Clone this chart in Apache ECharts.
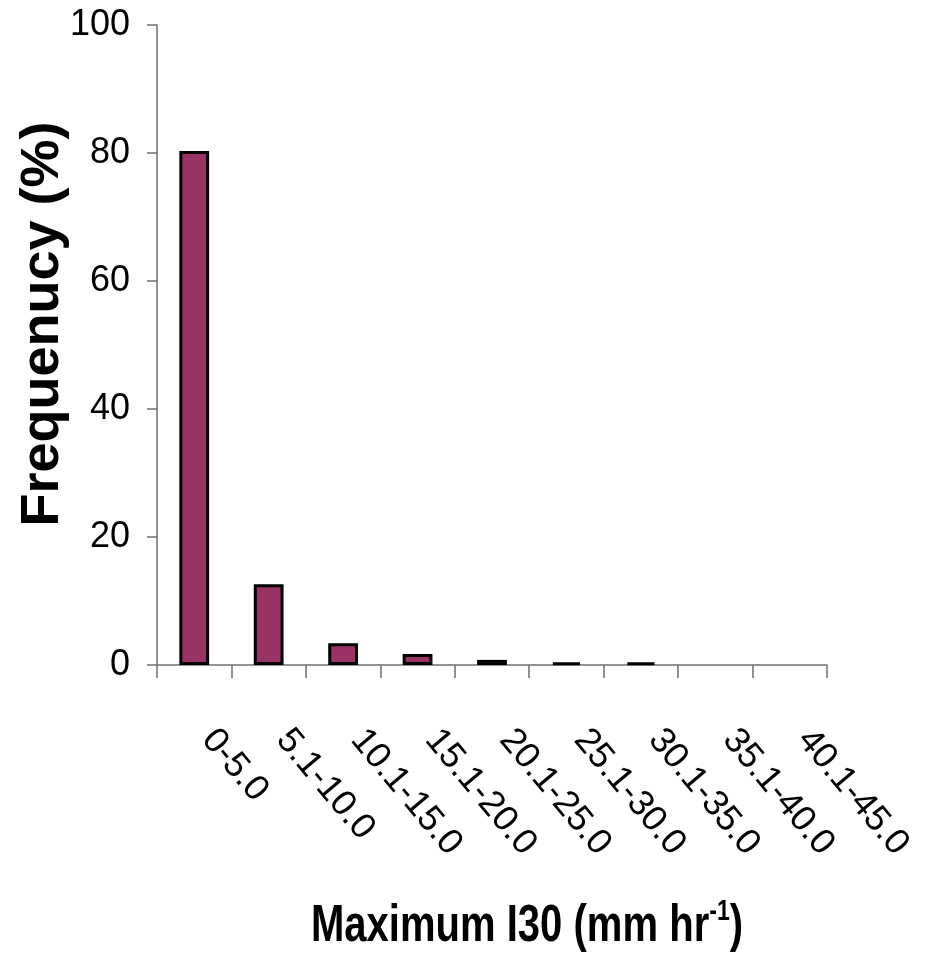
<!DOCTYPE html>
<html>
<head>
<meta charset="utf-8">
<script src="https://cdn.jsdelivr.net/npm/echarts@6/dist/echarts.min.js"></script>
<style>
  html, body { margin: 0; padding: 0; background: #fff; }
  #chart { width: 928px; height: 958px; }
</style>
</head>
<body>
<div id="chart"></div>
<script>
const categories = ['0-5.0', '5.1-10.0', '10.1-15.0', '15.1-20.0', '20.1-25.0', '25.1-30.0', '30.1-35.0', '35.1-40.0', '40.1-45.0'];
const frequency = [80.3, 12.6, 3.4, 1.7, 0.8, 0.4, 0.4, 0, 0];
const yTicks = [0, 20, 40, 60, 80, 100];
const yTitle = 'Frequenucy (%)';
const xTitleMain = 'Maximum I30 (mm hr';
const xTitleSup = '-1';

const chart = echarts.init(document.getElementById('chart'), null, { renderer: 'canvas' });
const axisColor = '#707070';
const labelFont = '"Liberation Sans Narrow", "Liberation Sans", Arial, sans-serif';
chart.setOption({
  backgroundColor: '#ffffff',
  animation: false,
  grid: { left: 157, right: 101, top: 25, bottom: 293, containLabel: false },
  xAxis: {
    type: 'category',
    data: categories,
    boundaryGap: true,
    axisLine: { lineStyle: { color: axisColor, width: 1.5 } },
    axisTick: { show: true, length: 13, inside: false, alignWithLabel: false, lineStyle: { color: axisColor, width: 1.5 } },
    axisLabel: {
      rotate: -50, margin: 52, interval: 0,
      padding: [0, 0, 0, 22],
      fontFamily: labelFont,
      fontSize: 36, color: '#000'
    }
  },
  yAxis: {
    type: 'value',
    min: yTicks[0], max: yTicks[yTicks.length - 1], interval: 20,
    splitLine: { show: false },
    axisLine: { show: true, lineStyle: { color: axisColor, width: 1.5 } },
    axisTick: { show: true, length: 10, lineStyle: { color: axisColor, width: 1.5 } },
    axisLabel: {
      margin: 27,
      fontFamily: labelFont,
      fontSize: 36, color: '#000'
    }
  },
  series: [{
    type: 'bar',
    data: frequency.map(v => (v === 0 ? '-' : v)),
    barWidth: '40%',
    itemStyle: { color: '#993366', borderColor: '#000', borderWidth: 3 }
  }],
  graphic: [
    {
      type: 'text',
      x: 43, y: 324,
      rotation: Math.PI / 2,
      style: {
        text: yTitle,
        fill: '#000',
        font: 'bold 54px "Liberation Sans", Arial, sans-serif',
        align: 'center', verticalAlign: 'middle'
      }
    },
    {
      type: 'text',
      x: 527, y: 927,
      scaleX: 0.77,
      style: {
        text: '{a|' + xTitleMain + '}{s|' + xTitleSup + '}{a|)}',
        align: 'center', verticalAlign: 'middle',
        rich: {
          a: { fontFamily: labelFont, fontWeight: 'bold', fontSize: 52, fill: '#000', lineHeight: 60 },
          s: { fontFamily: labelFont, fontWeight: 'bold', fontSize: 30, fill: '#000', lineHeight: 60, verticalAlign: 'top', padding: [0, 0, 26, 0] }
        }
      }
    }
  ]
});
</script>
</body>
</html>
